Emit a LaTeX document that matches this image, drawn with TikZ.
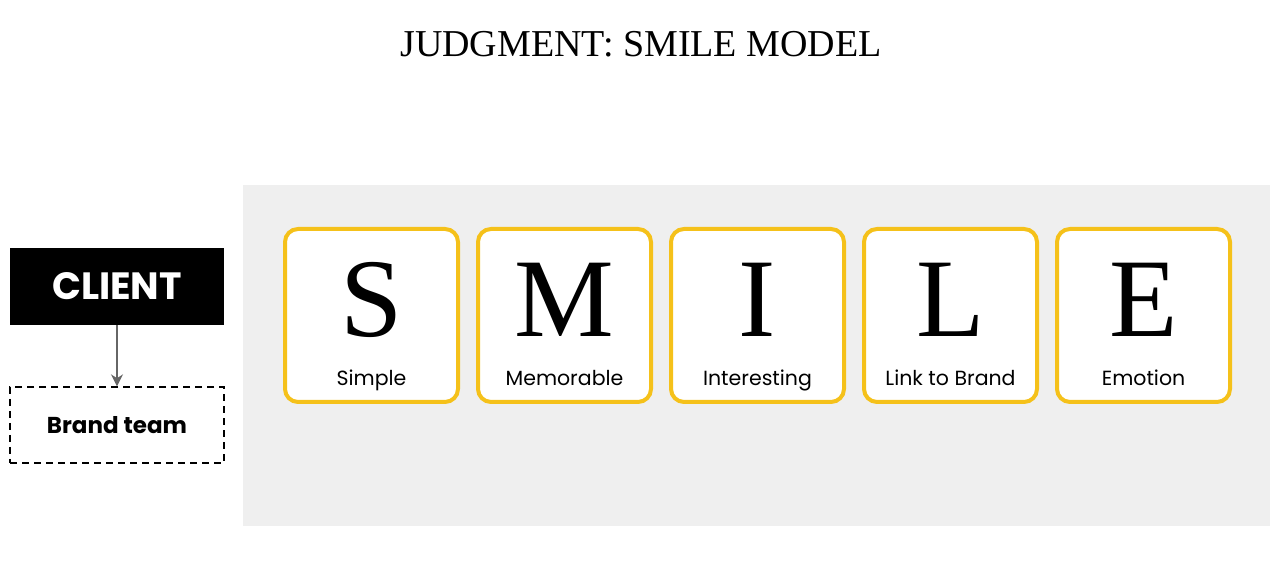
\documentclass[tikz,border=0pt]{standalone}
\usepackage{fontspec}
\usetikzlibrary{arrows.meta}
\setmainfont{Liberation Serif}
\newfontfamily\labfont{Poppins}
\definecolor{panelgray}{HTML}{EFEFEF}
\definecolor{smileyellow}{HTML}{F5C11A}
\definecolor{arrowgray}{HTML}{666666}
\begin{document}
\begin{tikzpicture}[x=1pt,y=1pt,
  letterbox/.style={draw=smileyellow,line width=4pt,fill=white,rounded corners=13pt,minimum width=173pt,minimum height=173pt,inner sep=0pt},
  bigletter/.style={font=\fontsize{112}{112}\selectfont,anchor=base},
  lab/.style={font=\labfont\fontsize{20.5}{20.5}\selectfont,anchor=base}]
\useasboundingbox (0,0) rectangle (1280,577);
\fill[white] (0,0) rectangle (1280,577);
\node[font=\fontsize{38}{38}\selectfont] (title) at (641,533) {JUDGMENT: SMILE MODEL};
\node[fill=panelgray,minimum width=1027pt,minimum height=341pt,inner sep=0pt] (panel) at (756.5,221.5) {};
\foreach \i/\L/\T in {0/S/Simple,1/M/Memorable,2/I/Interesting,3/L/Link to Brand,4/E/Emotion}{
  \node[letterbox] (box\i) at (371.5+193*\i,261.5) {};
  \node[bigletter] (let\i) at (371.5+193*\i,240) {\L};
  \node[lab] (lab\i) at (371.5+193*\i,191) {\T};
}
\node[fill=black,minimum width=214pt,minimum height=77pt,inner sep=0pt,text=white,font=\labfont\bfseries\fontsize{38}{38}\selectfont] (client) at (117,290.5) {\raisebox{-2pt}{CLIENT}};
\node[draw=black,line width=1.3pt,dash pattern=on 7pt off 5pt,minimum width=214pt,minimum height=76pt,inner sep=0pt,font=\labfont\bfseries\fontsize{23}{23}\selectfont] (brand) at (117,152) {Brand team};
\draw[arrowgray,line width=2.6pt,-{Stealth[length=12pt,width=12pt]}] (client.south) -- (brand.north);
\end{tikzpicture}
\end{document}
